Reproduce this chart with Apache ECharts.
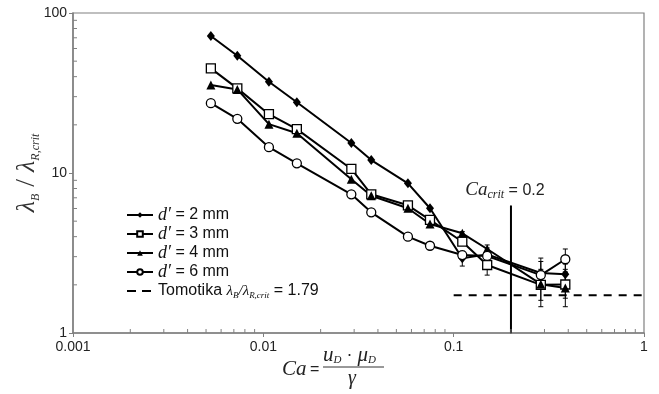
<!DOCTYPE html>
<html>
<head>
<meta charset="utf-8">
<script src="https://cdn.jsdelivr.net/npm/echarts@6/dist/echarts.min.js"></script>
<style>
  html, body { margin: 0; padding: 0; background: #fff; }
  #chart { width: 659px; height: 394px; }
</style>
</head>
<body>
<div id="chart"></div>
<script>
// capillary number for every measured point
const ca = [0.0053, 0.0073, 0.0107, 0.0150, 0.0290, 0.0369, 0.0575, 0.0751, 0.111, 0.150, 0.287, 0.386];
const d2 = [71.8, 54.1, 37.2, 27.7, 15.4, 12.05, 8.62, 6.02, 2.93, 3.1, 2.37, 2.33];
const d3 = [45.1, 33.8, 23.3, 18.8, 10.6, 7.36, 6.28, 5.09, 3.72, 2.66, 2.0, 2.01];
const d4 = [35.5, 33.3, 20.2, 17.7, 9.14, 7.21, 6.02, 4.80, 4.20, 3.35, 2.02, 1.91];
const d6 = [27.3, 21.8, 14.5, 11.5, 7.36, 5.68, 4.0, 3.51, 3.07, 3.03, 2.30, 2.89];

// error bars [low, high] on the last four points
const errCa = [0.111, 0.150, 0.287, 0.386];
const err2 = [[2.62, 3.25], [2.9, 3.4], [2.0, 2.8], [2.0, 2.7]];
const err3 = [[3.55, 3.9], [2.3, 3.0], [1.6, 2.45], [1.65, 2.4]];
const err4 = [[4.0, 4.3], [3.15, 3.55], [1.46, 2.5], [1.46, 2.4]];
const err6 = [[2.95, 3.2], [2.85, 3.2], [2.0, 2.94], [2.5, 3.35]];

const tomotikaCa = [0.1, 1];
const tomotikaY = 1.72;
const caCrit = 0.2;
const caCritTop = 6.25;

const xTicksMinor = [0.002, 0.003, 0.004, 0.005, 0.006, 0.007, 0.008, 0.009,
  0.02, 0.03, 0.04, 0.05, 0.06, 0.07, 0.08, 0.09,
  0.2, 0.3, 0.4, 0.5, 0.6, 0.7, 0.8, 0.9];
const yTicksMinor = [2, 3, 4, 5, 6, 7, 8, 9, 20, 30, 40, 50, 60, 70, 80, 90];

const AXIS = '#808080';
const SERIF = 'Liberation Serif';
const SANS = 'Liberation Sans';

const names = ['d2', 'd3', 'd4', 'd6', 'tom'];
const legendText = {
  d2: '{i|d′} = 2 mm',
  d3: '{i|d′} = 3 mm',
  d4: '{i|d′} = 4 mm',
  d6: '{i|d′} = 6 mm',
  tom: 'Tomotika {g|λ}{s|B}{g|/λ}{s|R,crit} = 1.79'
};
// two short dashes for the Tomotika legend entry
const dashIcon = 'path://M0,0h0.1v0.1h-0.1zM0,2.5h9v2h-9zM15,2.5h9v2h-9zM25.9,6.9h0.1v0.1h-0.1z';

const pts = ys => ca.map((x, i) => [x, ys[i]]);
const errData = e => errCa.map((x, i) => [x, e[i][0], e[i][1]]);

function lineSeries(name, ys, symbol, size, open) {
  return {
    name, type: 'line', data: pts(ys), symbol, symbolSize: size, z: 3,
    lineStyle: { color: '#000', width: 2 },
    itemStyle: open ? { color: '#fff', borderColor: '#000', borderWidth: 1.3 } : { color: '#000' }
  };
}

function errItem(params, api) {
  const x = api.value(0);
  const lo = api.coord([x, api.value(1)]);
  const hi = api.coord([x, api.value(2)]);
  const w = 2.5;
  const st = { stroke: '#000', lineWidth: 1 };
  return {
    type: 'group', children: [
      { type: 'line', shape: { x1: lo[0], y1: lo[1], x2: hi[0], y2: hi[1] }, style: st },
      { type: 'line', shape: { x1: lo[0] - w, y1: lo[1], x2: lo[0] + w, y2: lo[1] }, style: st },
      { type: 'line', shape: { x1: hi[0] - w, y1: hi[1], x2: hi[0] + w, y2: hi[1] }, style: st }
    ]
  };
}

function errSeries(e) {
  return {
    type: 'custom', data: errData(e), renderItem: errItem, z: 2, silent: true,
    encode: { x: 0, y: [1, 2] }
  };
}

const chart = echarts.init(document.getElementById('chart'));
chart.setOption({
  animation: false,
  grid: { left: 73, right: 15, top: 13, bottom: 61, outerBoundsMode: 'none',
    show: true, borderColor: AXIS, borderWidth: 1.2 },
  xAxis: {
    type: 'log', logBase: 10, min: 0.001, max: 1,
    axisLine: { lineStyle: { color: AXIS, width: 1.5 } },
    axisTick: { length: 4, lineStyle: { color: AXIS } },
    splitLine: { show: false },
    axisLabel: { fontSize: 14, color: '#222', fontFamily: SANS, margin: 7,
      formatter: v => String(parseFloat(v.toPrecision(6))) }
  },
  yAxis: {
    type: 'log', logBase: 10, min: 1, max: 100,
    axisLine: { lineStyle: { color: AXIS, width: 1.5 } },
    axisTick: { length: 4, lineStyle: { color: AXIS } },
    splitLine: { show: false },
    axisLabel: { fontSize: 14, color: '#222', fontFamily: SANS, margin: 6,
      formatter: v => String(parseFloat(v.toPrecision(6))) },
    name: '{g|λ}{s|B}{n| / }{g|λ}{s|R,crit}',
    nameLocation: 'middle', nameRotate: 90, nameGap: 31, nameMoveOverlap: false,
    nameTextStyle: {
      rich: {
        g: { fontFamily: SERIF, fontStyle: 'italic', fontSize: 26, color: '#333', lineHeight: 30 },
        s: { fontFamily: SERIF, fontStyle: 'italic', fontSize: 12, color: '#333', verticalAlign: 'bottom', lineHeight: 30 },
        n: { fontFamily: SERIF, fontSize: 28, color: '#333', lineHeight: 30 }
      }
    }
  },
  legend: {
    orient: 'vertical', left: 121, top: 201, itemWidth: 26, itemHeight: 7, itemGap: 1,
    data: names.map(n => n === 'tom' ? { name: n, icon: dashIcon } : n),
    formatter: n => legendText[n],
    textStyle: {
      fontSize: 16, color: '#111', fontFamily: SANS, lineHeight: 18,
      rich: {
        i: { fontFamily: SERIF, fontStyle: 'italic', fontSize: 18, color: '#111', lineHeight: 18 },
        g: { fontFamily: SERIF, fontStyle: 'italic', fontSize: 15, color: '#111', lineHeight: 18 },
        s: { fontFamily: SERIF, fontStyle: 'italic', fontSize: 9, color: '#111', verticalAlign: 'bottom', lineHeight: 18 }
      }
    }
  },
  series: [
    lineSeries('d2', d2, 'diamond', [8, 10], false),
    lineSeries('d3', d3, 'rect', 9, true),
    lineSeries('d4', d4, 'triangle', 9, false),
    lineSeries('d6', d6, 'circle', 9, true),
    errSeries(err2), errSeries(err3), errSeries(err4), errSeries(err6),
    {
      name: 'tom', type: 'line', symbol: 'none', z: 1,
      data: tomotikaCa.map(x => [x, tomotikaY]),
      lineStyle: { color: '#000', width: 2, type: [8, 7] }, itemStyle: { color: '#000' }
    },
    {
      type: 'line', symbol: 'circle', symbolSize: 1, z: 1, silent: true,
      lineStyle: { color: '#000', width: 2 }, itemStyle: { color: '#000' },
      data: [
        [caCrit, 1],
        {
          value: [caCrit, caCritTop],
          label: {
            show: true, position: 'top', distance: 4, offset: [-6, 0],
            formatter: '{i|Ca}{s|crit}{n| = 0.2}',
            rich: {
              i: { fontFamily: SERIF, fontStyle: 'italic', fontSize: 19, color: '#222', lineHeight: 22 },
              s: { fontFamily: SERIF, fontStyle: 'italic', fontSize: 12, color: '#222', verticalAlign: 'bottom', lineHeight: 22 },
              n: { fontFamily: SANS, fontSize: 16, color: '#222', lineHeight: 22 }
            }
          }
        }
      ]
    },
    {
      type: 'custom', silent: true, z: 4, clip: false,
      data: xTicksMinor.map(v => [v, 1]),
      renderItem: (p, api) => {
        const c = api.coord([api.value(0), 1]);
        return { type: 'line', shape: { x1: c[0], y1: c[1], x2: c[0], y2: c[1] - 4 }, style: { stroke: AXIS, lineWidth: 1 } };
      }
    },
    {
      type: 'custom', silent: true, z: 4, clip: false,
      data: yTicksMinor.map(v => [0.001, v]),
      renderItem: (p, api) => {
        const c = api.coord([0.001, api.value(1)]);
        return { type: 'line', shape: { x1: c[0], y1: c[1], x2: c[0] + 4, y2: c[1] }, style: { stroke: AXIS, lineWidth: 1 } };
      }
    }
  ],
  graphic: [
    { type: 'text', left: 282, top: 359, style: { text: 'Ca', font: 'italic 21px "Liberation Serif"', fill: '#222' } },
    { type: 'text', left: 310, top: 362, style: { text: '=', font: '16px "Liberation Sans"', fill: '#222' } },
    {
      type: 'text', left: 323, top: 345,
      style: {
        text: '{i|u}{s|D}{n| · }{i|μ}{s|D}',
        rich: {
          i: { fontFamily: SERIF, fontStyle: 'italic', fontSize: 21, fill: '#222', lineHeight: 20 },
          s: { fontFamily: SERIF, fontStyle: 'italic', fontSize: 11, fill: '#222', verticalAlign: 'bottom', lineHeight: 20 },
          n: { fontFamily: SANS, fontSize: 18, fill: '#222', lineHeight: 20 }
        }
      }
    },
    { type: 'line', shape: { x1: 323, y1: 367, x2: 384, y2: 367 }, style: { stroke: '#333', lineWidth: 1 } },
    { type: 'text', left: 348, top: 369, style: { text: 'γ', font: 'italic 20px "Liberation Serif"', fill: '#222' } }
  ]
});
</script>
</body>
</html>
